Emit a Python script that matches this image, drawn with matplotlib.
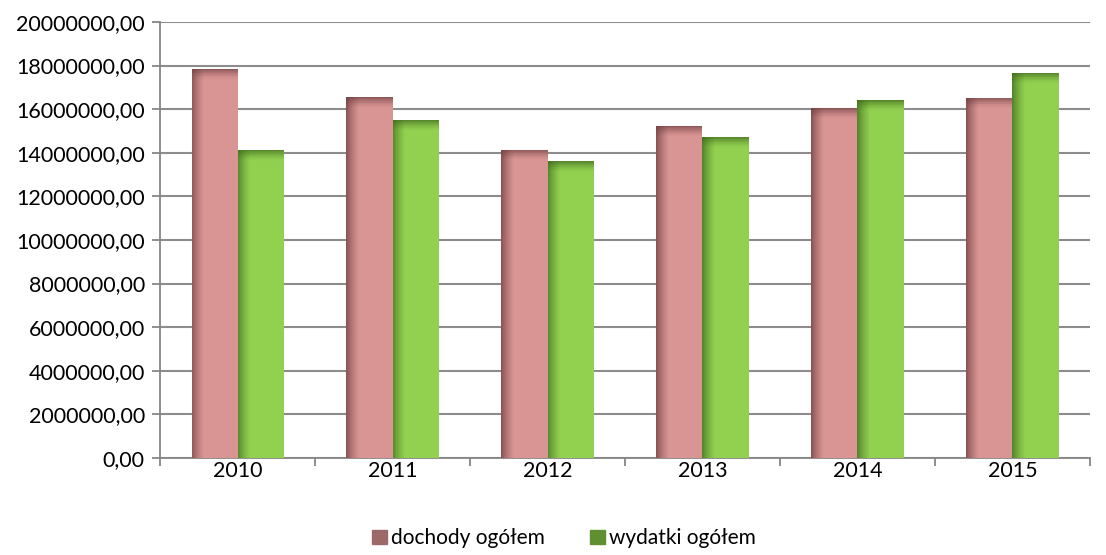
import matplotlib.pyplot as plt
import numpy as np
from matplotlib.ticker import FuncFormatter
from matplotlib.patches import Patch

years = ['2010', '2011', '2012', '2013', '2014', '2015']
dochody = [17850000, 16550000, 14150000, 15230000, 16050000, 16530000]
wydatki = [14130000, 15500000, 13610000, 14720000, 16420000, 17670000]

plt.rcParams['font.family'] = ['Lato', 'DejaVu Sans']

fig = plt.figure(figsize=(11.06, 5.55), dpi=100)
ax = fig.add_axes([0.1447, 0.1748, 0.8408, 0.7856])

x = np.arange(len(years))
w = 0.297

def shaded_bars(pos, vals, face, dark):
    ax.bar(pos, vals, w, color=face, edgecolor='none', zorder=3)
    # left-side shading
    n = 14
    for i in range(n):
        a = 0.75 * (1 - i / n) ** 1.5
        ax.bar(pos - w / 2 + w * 0.02 * i, vals, w * 0.02, align='edge',
               color=dark, alpha=a, edgecolor='none', zorder=4)
    # top shading
    for i in range(n):
        a = 0.7 * (1 - i / n) ** 1.5
        h = 35000
        ax.bar(pos, [h] * len(vals), w, bottom=np.array(vals) - h * (i + 1),
               color=dark, alpha=a, edgecolor='none', zorder=4)

shaded_bars(x - w / 2, dochody, '#D99594', '#6e3e3e')
shaded_bars(x + w / 2, wydatki, '#92D050', '#3f6a1c')

ax.set_xlim(-0.5, len(years) - 0.5)
ax.set_ylim(0, 20000000)
ax.set_yticks(np.arange(0, 20000001, 2000000))
ax.yaxis.set_major_formatter(FuncFormatter(lambda v, p: f'{v:.2f}'.replace('.', ',')))
ax.set_xticks(x)
ax.set_xticklabels(years)
ax.set_xticks(np.arange(-0.5, len(years), 1), minor=True)
ax.tick_params(axis='x', which='major', length=0, pad=2, labelsize=15.5)
ax.tick_params(axis='x', which='minor', length=6, color='#868686', width=1.3)
ax.tick_params(axis='y', length=6, color='#868686', width=1.3, labelsize=15.5, pad=5)

ax.grid(axis='y', color='#8c8c8c', linewidth=1.5, zorder=0)
ax.set_axisbelow(True)
for s in ['top', 'right']:
    ax.spines[s].set_visible(False)
ax.spines['left'].set_color('#868686')
ax.spines['bottom'].set_color('#868686')
ax.spines['left'].set_linewidth(1.3)
ax.spines['bottom'].set_linewidth(1.3)

handles = [Patch(color='#9c6868', label='dochody ogółem'),
           Patch(color='#5e8f30', label='wydatki ogółem')]
fig.legend(handles=handles, loc='center', bbox_to_anchor=(0.51, 0.03), ncol=2, frameon=False,
           fontsize=15, handlelength=0.7, handleheight=0.7, handletextpad=0.2,
           columnspacing=2.2)

fig.savefig('out.png', dpi=100)
